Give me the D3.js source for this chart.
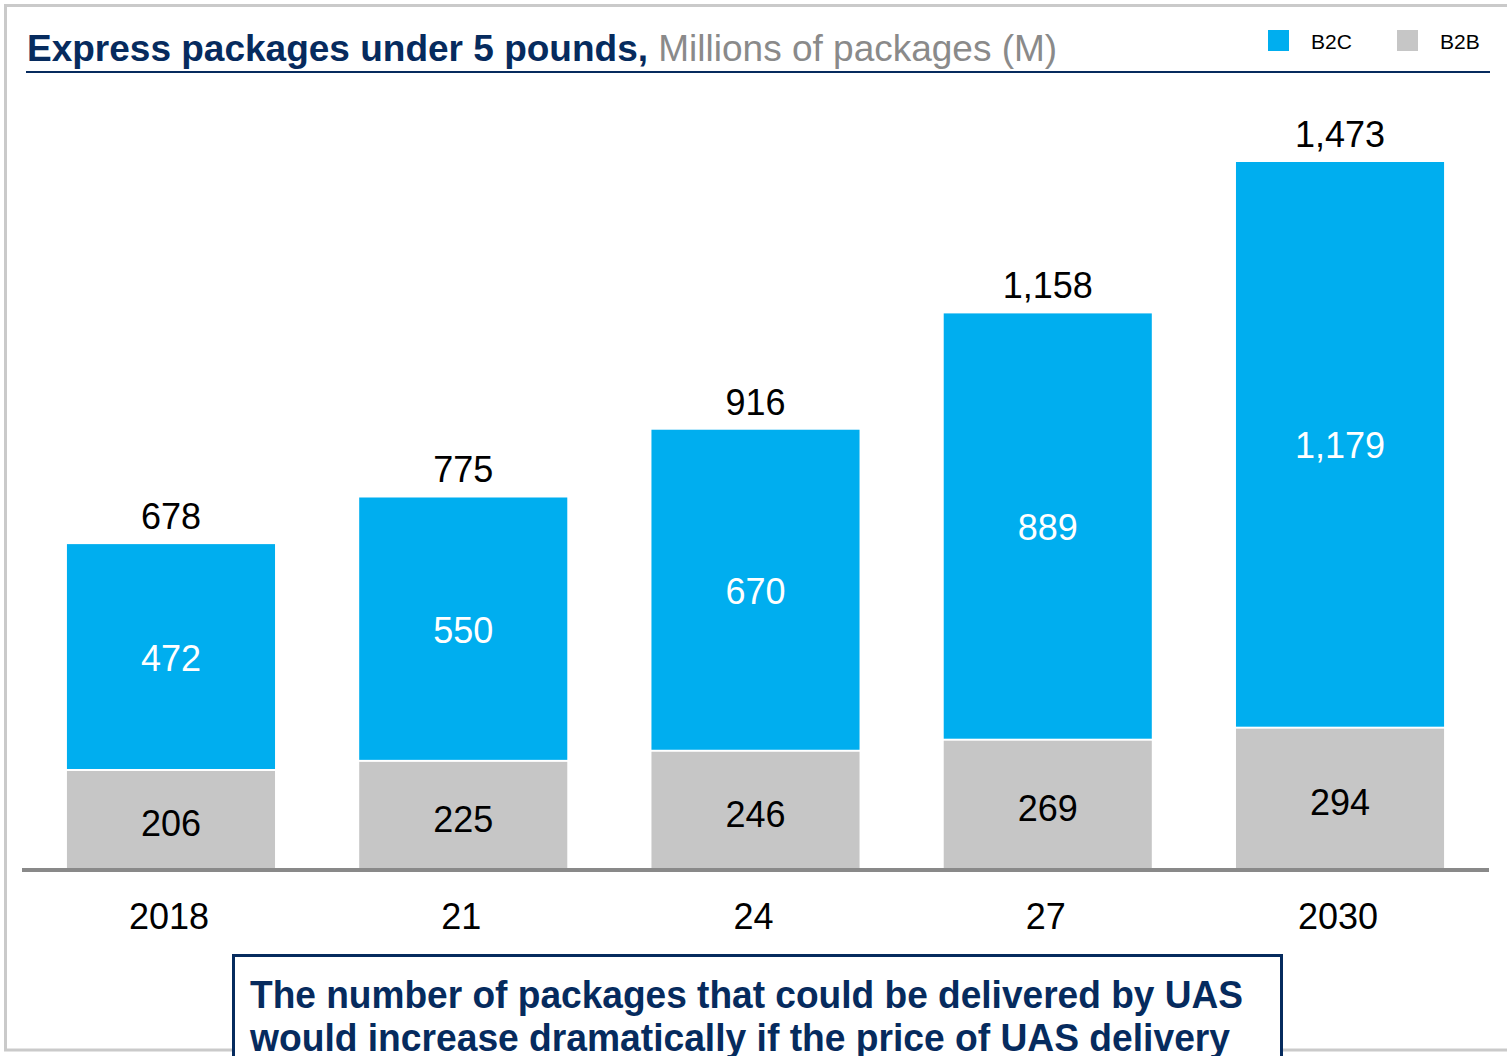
<!DOCTYPE html>
<html>
<head>
<meta charset="utf-8">
<script src="https://cdn.jsdelivr.net/npm/d3@7"></script>
<style>
  html, body { margin: 0; padding: 0; background: #fff; }
  svg { display: block; font-family: Arial, "Liberation Sans", sans-serif; }
</style>
</head>
<body>
<svg id="chart" width="1507" height="1056"></svg>
<script>
// Express packages under 5 pounds, millions of packages
const categories = ["2018", "21", "24", "27", "2030"];
const b2b = [206, 225, 246, 269, 294];
const b2c = [472, 550, 670, 889, 1179];
const totals = [678, 775, 916, 1158, 1473];
const seriesNames = ["B2C", "B2B"];
const noteLines = [
  "The number of packages that could be delivered by UAS",
  "would increase dramatically if the price of UAS delivery"
];

const colors = { B2C: "#00AEEF", B2B: "#C6C6C6" };
const navy = "#062B5E";

const svg = d3.select("#chart");
const fmt = d3.format(",");

// page frame
svg.append("rect")
  .attr("x", 5.5).attr("y", 5.5)
  .attr("width", 1530).attr("height", 1044.5)
  .attr("fill", "none").attr("stroke", "#CACACA").attr("stroke-width", 3);

// title
const title = svg.append("text").attr("x", 27).attr("y", 61)
  .attr("font-size", 37);
title.append("tspan").attr("font-weight", "bold").attr("fill", navy)
  .text("Express packages under 5 pounds,");
title.append("tspan").attr("fill", "#8A8A8A").text(" Millions of packages (M)");

svg.append("line")
  .attr("x1", 26).attr("x2", 1490).attr("y1", 72).attr("y2", 72)
  .attr("stroke", navy).attr("stroke-width", 2);

// legend
const legendX = [1268, 1397];
seriesNames.forEach((name, i) => {
  svg.append("rect").attr("x", legendX[i]).attr("y", 30)
    .attr("width", 21).attr("height", 21).attr("fill", colors[name]);
  svg.append("text").attr("x", legendX[i] + 43).attr("y", 49)
    .attr("font-size", 21).attr("fill", "#000").text(name);
});

// scales
const x = d3.scaleBand().domain(categories)
  .range([25, 1486]).paddingInner(0.288).paddingOuter(0.1435);
const y = d3.scaleLinear().domain([0, d3.max(totals)]).range([870, 162]);

const rows = categories.map((c, i) => ({ cat: c, b2b: b2b[i], b2c: b2c[i], total: totals[i] }));

// B2B segments
svg.append("g").selectAll("rect").data(rows).join("rect")
  .attr("x", d => x(d.cat)).attr("width", x.bandwidth())
  .attr("y", d => y(d.b2b)).attr("height", d => y(0) - y(d.b2b))
  .attr("fill", colors.B2B);

// B2C segments, with a thin white gap above B2B
svg.append("g").selectAll("rect").data(rows).join("rect")
  .attr("x", d => x(d.cat)).attr("width", x.bandwidth())
  .attr("y", d => y(d.b2b + d.b2c))
  .attr("height", d => y(d.b2b) - y(d.b2b + d.b2c) - 2)
  .attr("fill", colors.B2C);

// segment labels
svg.append("g").selectAll("text").data(rows).join("text")
  .attr("x", d => x(d.cat) + x.bandwidth() / 2)
  .attr("y", d => (y(d.b2b) + y(d.b2b + d.b2c)) / 2 + 13)
  .attr("text-anchor", "middle").attr("font-size", 36).attr("fill", "#fff")
  .text(d => fmt(d.b2c));

svg.append("g").selectAll("text").data(rows).join("text")
  .attr("x", d => x(d.cat) + x.bandwidth() / 2)
  .attr("y", d => (y(0) + y(d.b2b)) / 2 + 16)
  .attr("text-anchor", "middle").attr("font-size", 36).attr("fill", "#000")
  .text(d => fmt(d.b2b));

// totals
svg.append("g").selectAll("text").data(rows).join("text")
  .attr("x", d => x(d.cat) + x.bandwidth() / 2)
  .attr("y", d => y(d.total) - 15)
  .attr("text-anchor", "middle").attr("font-size", 36).attr("fill", "#000")
  .text(d => fmt(d.total));

// baseline
svg.append("line")
  .attr("x1", 22).attr("x2", 1489).attr("y1", 870).attr("y2", 870)
  .attr("stroke", "#898989").attr("stroke-width", 4);

// category axis
const axis = svg.append("g").attr("transform", "translate(-2,870)")
  .call(d3.axisBottom(x).tickSize(0).tickPadding(33));
axis.select(".domain").remove();
axis.selectAll("text").attr("font-size", 36).attr("fill", "#000")
  .attr("font-family", "Arial, 'Liberation Sans', sans-serif");

// note box
svg.append("rect")
  .attr("x", 233.5).attr("y", 955.5).attr("width", 1048).attr("height", 140)
  .attr("fill", "#fff").attr("stroke", navy).attr("stroke-width", 3);

const noteWidths = [993, 980];
noteLines.forEach((line, i) => {
  svg.append("text").attr("x", 250).attr("y", 1008 + i * 43)
    .attr("font-size", 38).attr("font-weight", "bold").attr("fill", navy)
    .attr("textLength", noteWidths[i]).attr("lengthAdjust", "spacingAndGlyphs")
    .text(line);
});
</script>
</body>
</html>
